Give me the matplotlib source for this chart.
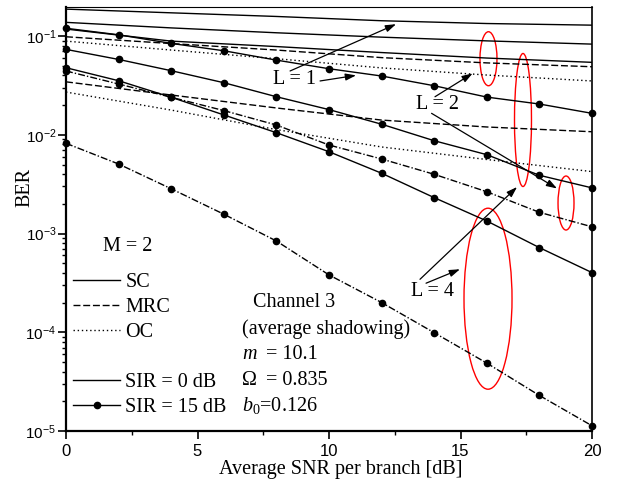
import numpy as np
import matplotlib
matplotlib.use('Agg')
import matplotlib.pyplot as plt
from matplotlib.lines import Line2D
from matplotlib.patches import Ellipse
from matplotlib.ticker import MultipleLocator, LogLocator

plt.rcParams['font.family'] = 'Liberation Sans'
plt.rcParams['mathtext.fontset'] = 'custom'
plt.rcParams['mathtext.rm'] = 'Liberation Serif'
plt.rcParams['mathtext.it'] = 'Liberation Serif:italic'
SERIF = 'Liberation Serif'
FS = 14.5

# SIR = 0 dB curves (no markers)
snr_0 = [0, 4, 8, 12, 16, 20]
sc_L1_sir0 = [0.1875, 0.172, 0.158, 0.143, 0.134, 0.129]
sc_L2_sir0 = [0.1377, 0.121, 0.108, 0.0975, 0.0894, 0.0829]
sc_L4_sir0 = [0.1178, 0.0889, 0.0783, 0.0681, 0.0599, 0.0542]
mrc_L2_sir0 = [0.0984, 0.0840, 0.0722, 0.0605, 0.0535, 0.0489]
oc_L2_sir0 = [0.0889, 0.0722, 0.0590, 0.0476, 0.0403, 0.0351]
mrc_L4_sir0 = [0.0344, 0.0253, 0.0187, 0.0141, 0.0120, 0.01074]
oc_L4_sir0 = [0.0271, 0.0178, 0.0113, 0.00753, 0.00562, 0.00424]

# SIR = 15 dB curves (with markers)
snr_15 = [0, 2, 4, 6, 8, 10, 12, 14, 16, 18, 20]
all_L1_sir15 = [0.120, 0.103, 0.0843, 0.071, 0.0571, 0.0467, 0.0394, 0.0314, 0.0241, 0.0205, 0.0165]
sc_L2_sir15 = [0.0733, 0.058, 0.0446, 0.0337, 0.0243, 0.0180, 0.0128, 0.00871, 0.00629, 0.00389, 0.0029]
mrc_oc_L2_sir15 = [0.0443, 0.0327, 0.0240, 0.0176, 0.01256, 0.00788, 0.00569, 0.00398, 0.00265, 0.00164, 0.00117]
sc_L4_sir15 = [0.0478, 0.0353, 0.0240, 0.0159, 0.0105, 0.00674, 0.00408, 0.00231, 0.00134, 0.00072, 0.000402]
mrc_oc_L4_sir15 = [0.0082, 0.00506, 0.00284, 0.00157, 0.00084, 0.000381, 0.0002, 0.000099, 0.0000487, 0.0000229, 0.0000113]

fig = plt.figure(figsize=(6.25, 4.8), dpi=100)
ax = fig.add_axes([66/625, 1-431/480, 526/625, 424/480])

lw = 1.0
dash = (5, 2)
dot = (1, 2)
dashdot = (5, 1.5, 1, 1.5)

ax.plot(snr_0, sc_L1_sir0, 'k-', lw=lw)
ax.plot(snr_0, sc_L2_sir0, 'k-', lw=lw)
ax.plot(snr_0, sc_L4_sir0, 'k-', lw=lw)
ax.plot(snr_0, mrc_L2_sir0, 'k', lw=lw, dashes=dash)
ax.plot(snr_0, oc_L2_sir0, 'k', lw=lw, dashes=dot)
ax.plot(snr_0, mrc_L4_sir0, 'k', lw=lw, dashes=dash)
ax.plot(snr_0, oc_L4_sir0, 'k', lw=lw, dashes=dot)

mk = dict(marker='o', ms=4.5, mfc='k', mec='k', color='k', lw=lw, clip_on=False)
ax.plot(snr_15, all_L1_sir15, '-', **mk)
ax.plot(snr_15, sc_L2_sir15, '-', **mk)
ax.plot(snr_15, sc_L4_sir15, '-', **mk)
ax.plot(snr_15, mrc_oc_L2_sir15, dashes=dashdot, **mk)
ax.plot(snr_15, mrc_oc_L4_sir15, dashes=dashdot, **mk)

ax.set_yscale('log')
ax.set_xlim(0, 20)
ax.set_ylim(1e-5, 0.197)
ax.xaxis.set_major_locator(MultipleLocator(5))
ax.xaxis.set_minor_locator(MultipleLocator(2.5))
ax.yaxis.set_minor_locator(LogLocator(base=10, subs=np.arange(2, 10)))
ax.tick_params(which='both', direction='out', top=False, right=False)
ax.tick_params(which='major', length=6, width=1.2)
ax.tick_params(which='minor', length=3, width=1.0)
ax.tick_params(axis='x', labelsize=12, pad=3)
ax.tick_params(axis='y', labelsize=11, pad=1)
for s in ['left', 'bottom']:
    ax.spines[s].set_linewidth(1.6)
ax.spines['right'].set_linewidth(1.2)
ax.spines['top'].set_linewidth(0.8)

ax.set_xlabel('Average SNR per branch [dB]', fontfamily=SERIF, fontsize=FS)
ax.set_ylabel('BER', fontfamily=SERIF, fontsize=FS)
ax.xaxis.set_label_coords(0.522, -0.068)
ax.yaxis.set_label_coords(-0.06, 0.575)

# legend
handles = [Line2D([], [], color='k', lw=lw),
           Line2D([], [], color='k', lw=lw, dashes=dash),
           Line2D([], [], color='k', lw=lw, dashes=dot),
           Line2D([], [], color='none'),
           Line2D([], [], color='k', lw=lw),
           Line2D([], [], color='k', lw=lw, marker='o', ms=4.5)]
labels = ['SC', 'MRC', 'OC', '', 'SIR = 0 dB', 'SIR = 15 dB']
ax.legend(handles, labels, loc='upper left', bbox_to_anchor=(0.0133, 0.373),
          frameon=False, borderpad=0, borderaxespad=0, handlelength=2.34,
          handletextpad=0.25, labelspacing=0.29, numpoints=1,
          prop={'family': SERIF, 'size': FS})
ax.text(0.0703, 0.434, 'M = 2', transform=ax.transAxes, fontfamily=SERIF,
        fontsize=FS, va='center', ha='left')

# channel parameters
tk = dict(transform=ax.transAxes, fontfamily=SERIF, fontsize=FS, va='center', ha='left')
ax.text(0.3555, 0.3026, 'Channel 3', **tk)
ax.text(0.3346, 0.2406, '(average shadowing)', **tk)
ax.text(0.3346, 0.181, '$m$', **tk)
ax.text(0.380, 0.181, '= 10.1', **tk)
ax.text(0.3346, 0.1186, 'Ω', **tk)
ax.text(0.380, 0.1186, '= 0.835', **tk)
ax.text(0.3346, 0.0597, r'$b_{\mathit{0}}$=0.126', **tk)

# L annotations
arr = dict(arrowstyle='-|>,head_length=0.45,head_width=0.15', color='k', lw=0.9,
           shrinkA=0, shrinkB=0, mutation_scale=14)
ax.text(8.67, 0.0367, 'L = 1', fontfamily=SERIF, fontsize=FS, ha='center', va='center')
ax.annotate('', xy=(12.55, 0.132), xytext=(8.52, 0.0443), arrowprops=arr)
ax.annotate('', xy=(11.03, 0.040), xytext=(9.66, 0.0351), arrowprops=arr)
ax.text(14.14, 0.0205, 'L = 2', fontfamily=SERIF, fontsize=FS, ha='center', va='center')
ax.annotate('', xy=(15.46, 0.0419), xytext=(14.03, 0.0243), arrowprops=arr)
ax.annotate('', xy=(18.67, 0.00286), xytext=(13.9, 0.0165), arrowprops=arr)
ax.text(13.95, 2.56e-4, 'L = 4', fontfamily=SERIF, fontsize=FS, ha='center', va='center')
ax.annotate('', xy=(17.15, 2.96e-3), xytext=(13.46, 3.44e-4), arrowprops=arr)
ax.annotate('', xy=(14.98, 4.35e-4), xytext=(13.69, 3.14e-4), arrowprops=arr)

# red ellipses (axes fraction)
for cx, cy, w, h in [(0.8032, 0.878, 0.0323, 0.1274),
                     (0.8688, 0.7335, 0.0323, 0.3137),
                     (0.9506, 0.5377, 0.0304, 0.1274),
                     (0.8023, 0.312, 0.0913, 0.4269)]:
    ax.add_patch(Ellipse((cx, cy), w, h, transform=ax.transAxes, fill=False,
                         edgecolor='red', lw=1.0, clip_on=False))

fig.savefig('out.png', dpi=100)
